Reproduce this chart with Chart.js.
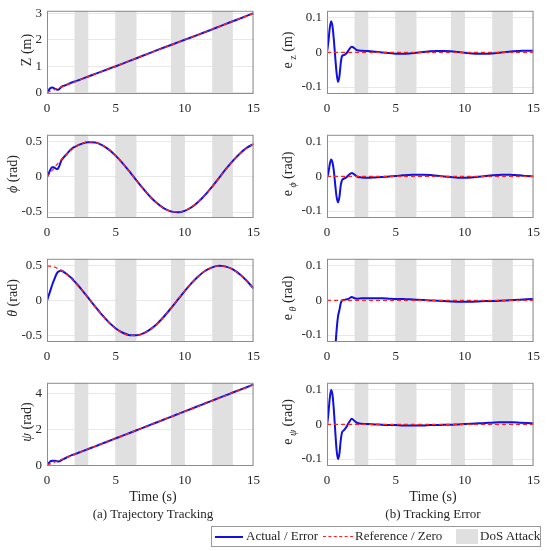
<!DOCTYPE html>
<html>
<head>
<meta charset="utf-8">
<script src="https://cdn.jsdelivr.net/npm/chart.js@4.4.0/dist/chart.umd.min.js"></script>
<style>
    body { margin: 0; background: #fff; font-family: "Liberation Serif", serif; color: #262626; }
    #page { position: relative; width: 550px; height: 551px; overflow: hidden; }
    canvas { position: absolute; }
    .ylab { position: absolute; transform: translate(-50%, -50%) rotate(-90deg); white-space: nowrap; font-size: 14px; }
    .ylab sub { font-size: 10px; }
    .xlab { position: absolute; transform: translateX(-50%); white-space: nowrap; font-size: 14px; }
    .sub { position: absolute; transform: translateX(-50%); white-space: nowrap; font-size: 13px; }
    #legend { position: absolute; left: 211px; top: 526px; width: 328px; height: 19px; border: 1px solid #9a9a9a; background: #fff; font-size: 13px; }
    #legend span { position: absolute; top: 1px; white-space: nowrap; }
    .swatch { position: absolute; }
</style>
</head>
<body>
<div id="page">
    <canvas id="c0" width="267" height="122"></canvas>
    <canvas id="c1" width="267" height="122"></canvas>
    <canvas id="c2" width="267" height="122"></canvas>
    <canvas id="c3" width="267" height="122"></canvas>
    <canvas id="c4" width="267" height="122"></canvas>
    <canvas id="c5" width="267" height="122"></canvas>
    <canvas id="c6" width="267" height="122"></canvas>
    <canvas id="c7" width="267" height="122"></canvas>

    <div class="ylab" style="left:27px; top:50px">Z (m)</div>
    <div class="ylab" style="left:13px; top:174px"><i>&#981;</i> (rad)</div>
    <div class="ylab" style="left:13px; top:298px"><i>&theta;</i> (rad)</div>
    <div class="ylab" style="left:27px; top:422px"><i>&psi;</i> (rad)</div>
    <div class="ylab" style="left:289px; top:50px">e<sub> z</sub> (m)</div>
    <div class="ylab" style="left:289px; top:174px">e<sub> <i>&#981;</i></sub> (rad)</div>
    <div class="ylab" style="left:289px; top:298px">e<sub> <i>&theta;</i></sub> (rad)</div>
    <div class="ylab" style="left:289px; top:422px">e<sub> <i>&psi;</i></sub> (rad)</div>

    <div class="xlab" style="left:153px; top:489px">Time (s)</div>
    <div class="xlab" style="left:433px; top:489px">Time (s)</div>
    <div class="sub" style="left:153px; top:506px">(a) Trajectory Tracking</div>
    <div class="sub" style="left:433px; top:506px">(b) Tracking Error</div>

    <div id="legend">
        <div class="swatch" style="left:3px; top:9px; width:28px; border-top:2px solid #1010e0"></div>
        <span style="left:34px">Actual / Error</span>
        <div class="swatch" style="left:111px; top:9px; width:30px; border-top:1.5px dashed #ff2020"></div>
        <span style="left:143px">Reference / Zero</span>
        <div class="swatch" style="left:244px; top:2px; width:22px; height:15px; background:#e0e0e0"></div>
        <span style="left:268px">DoS Attack</span>
    </div>
</div>

<script>
    // time samples (s)
    const timeFine = [0, 0.1, 0.2, 0.3, 0.4, 0.5, 0.6, 0.7, 0.8, 0.9, 1, 1.1, 1.2, 1.4, 1.6, 1.8, 2, 2.2, 2.5,
        3, 3.5, 4, 4.5, 5, 5.5, 6, 6.5, 7, 7.5, 8, 8.5, 9, 9.5, 10, 10.5, 11, 11.5, 12, 12.5, 13, 13.5, 14, 14.5, 15];
    const timeRef = [0, 0.5, 1, 1.5, 2, 2.5, 3, 3.5, 4, 4.5, 5, 5.5, 6, 6.5, 7, 7.5, 8, 8.5, 9, 9.5, 10,
        10.5, 11, 11.5, 12, 12.5, 13, 13.5, 14, 14.5, 15];
    const timeEnds = [0, 15];

    // DoS attack windows
    const dosStart = [2, 5, 9, 12];
    const dosEnd = [3, 6.5, 10, 13.5];

    // reference trajectories
    const zRef = [0, 0.1, 0.2, 0.3, 0.4, 0.5, 0.6, 0.7, 0.8, 0.9, 1.0, 1.1, 1.2, 1.3, 1.4, 1.5, 1.6, 1.7, 1.8, 1.9, 2.0,
        2.1, 2.2, 2.3, 2.4, 2.5, 2.6, 2.7, 2.8, 2.9, 3.0];
    const phiRef = [0, 0.124, 0.240, 0.341, 0.421, 0.474, 0.499, 0.492, 0.455, 0.389, 0.299, 0.191, 0.071, -0.054,
        -0.175, -0.286, -0.378, -0.448, -0.489, -0.500, -0.479, -0.429, -0.353, -0.255, -0.140, -0.017, 0.108,
        0.225, 0.328, 0.412, 0.469];
    const thetaRef = [0.5, 0.484, 0.439, 0.366, 0.270, 0.158, 0.035, -0.089, -0.208, -0.314, -0.401, -0.462, -0.495,
        -0.497, -0.468, -0.410, -0.327, -0.223, -0.105, 0.019, 0.142, 0.256, 0.354, 0.431, 0.480, 0.500, 0.488,
        0.447, 0.377, 0.284, 0.173];
    const psiRef = [0, 0.15, 0.3, 0.45, 0.6, 0.75, 0.9, 1.05, 1.2, 1.35, 1.5, 1.65, 1.8, 1.95, 2.1, 2.25, 2.4, 2.55,
        2.7, 2.85, 3.0, 3.15, 3.3, 3.45, 3.6, 3.75, 3.9, 4.05, 4.2, 4.35, 4.5];
    const zeroLine = [0, 0];

    // actual states
    const zAct = [0, 0.06, 0.14, 0.18, 0.185, 0.16, 0.13, 0.105, 0.1, 0.13, 0.19, 0.23, 0.25, 0.285, 0.33, 0.376,
        0.412, 0.446, 0.505, 0.604, 0.702, 0.8, 0.898, 0.996, 1.096, 1.197, 1.299, 1.401, 1.503, 1.604, 1.704,
        1.803, 1.901, 1.999, 2.097, 2.196, 2.296, 2.397, 2.499, 2.601, 2.703, 2.804, 2.905, 3.005];
    const phiAct = [-0.004, 0.035, 0.085, 0.124, 0.139, 0.139, 0.123, 0.112, 0.12, 0.158, 0.215, 0.251, 0.275, 0.319,
        0.364, 0.402, 0.426, 0.445, 0.471, 0.495, 0.489, 0.453, 0.389, 0.300, 0.194, 0.075, -0.049, -0.170,
        -0.282, -0.376, -0.448, -0.491, -0.504, -0.483, -0.432, -0.354, -0.254, -0.137, -0.013, 0.113, 0.229,
        0.331, 0.413, 0.469];
    const thetaAct = [0, 0.06, 0.12, 0.18, 0.24, 0.29, 0.34, 0.385, 0.415, 0.422, 0.431, 0.426, 0.414, 0.385, 0.353,
        0.321, 0.276, 0.232, 0.164, 0.041, -0.083, -0.202, -0.309, -0.397, -0.458, -0.492, -0.495, -0.467,
        -0.410, -0.328, -0.225, -0.108, 0.015, 0.138, 0.252, 0.351, 0.429, 0.478, 0.499, 0.488, 0.448, 0.379,
        0.287, 0.177];
    const psiAct = [0, 0.08, 0.18, 0.23, 0.245, 0.245, 0.235, 0.22, 0.205, 0.21, 0.25, 0.3, 0.34, 0.412, 0.486,
        0.556, 0.61, 0.664, 0.752, 0.901, 1.05, 1.199, 1.348, 1.498, 1.647, 1.797, 1.947, 2.097, 2.248, 2.398,
        2.549, 2.699, 2.85, 3.001, 3.152, 3.303, 3.454, 3.605, 3.756, 3.906, 4.056, 4.205, 4.354, 4.503];

    // tracking errors
    const zErr = [0, 0.03, 0.07, 0.09, 0.075, 0.035, -0.015, -0.06, -0.085, -0.07, -0.03, -0.01, -0.008, -0.003,
        0.008, 0.016, 0.012, 0.006, 0.005, 0.004, 0.002, 0, -0.002, -0.004, -0.004, -0.003, -0.001, 0.001, 0.003,
        0.004, 0.004, 0.003, 0.001, -0.001, -0.003, -0.004, -0.004, -0.003, -0.001, 0.001, 0.003, 0.004, 0.005, 0.005];
    const phiErr = [-0.004, 0.01, 0.035, 0.049, 0.04, 0.015, -0.025, -0.06, -0.075, -0.06, -0.025, -0.01, -0.007,
        -0.003, 0.005, 0.01, 0.005, -0.001, -0.003, -0.004, -0.003, -0.002, 0, 0.001, 0.003, 0.004, 0.005, 0.005,
        0.004, 0.002, 0, -0.002, -0.004, -0.004, -0.003, -0.001, 0.001, 0.003, 0.004, 0.005, 0.004, 0.003, 0.001, 0];
    const thetaErr = [-0.5, -0.439, -0.378, -0.314, -0.25, -0.194, -0.138, -0.085, -0.046, -0.028, -0.008, 0, 0.001,
        0.003, 0.005, 0.01, 0.006, 0.005, 0.006, 0.006, 0.006, 0.006, 0.005, 0.004, 0.004, 0.003, 0.002, 0.001, 0,
        -0.001, -0.002, -0.003, -0.004, -0.004, -0.004, -0.003, -0.002, -0.002, -0.001, 0, 0.001, 0.002, 0.003, 0.004];
    const psiErr = [-0.005, 0.03, 0.075, 0.099, 0.085, 0.04, -0.02, -0.075, -0.1, -0.085, -0.045, -0.022, -0.018,
        -0.008, 0.006, 0.016, 0.01, 0.004, 0.002, 0.001, 0, -0.001, -0.002, -0.002, -0.003, -0.003, -0.003, -0.003,
        -0.002, -0.002, -0.001, -0.001, 0, 0.001, 0.002, 0.003, 0.004, 0.005, 0.006, 0.006, 0.006, 0.005, 0.004, 0.003];

    // tick labels
    const timeTicks = [0, 5, 10, 15];
    const zTicks = [0, 1, 2, 3];
    const angleTicks = [-0.5, 0, 0.5];
    const psiTicks = [0, 2, 4];
    const errTicks = [-0.1, 0, 0.1];

    const BLUE = '#1010e0';
    const RED = '#ff2020';
    const FONT = { family: '"Liberation Serif", serif', size: 13 };

    // panel list: [actual, actualTime, ref, refTime, yMin, yMax, ticks]
    const panels = [
        [zAct, timeFine, zRef, timeRef, -0.06, 3.1, zTicks],
        [zErr, timeFine, zeroLine, timeEnds, -0.12, 0.12, errTicks],
        [phiAct, timeFine, phiRef, timeRef, -0.585, 0.6, angleTicks],
        [phiErr, timeFine, zeroLine, timeEnds, -0.12, 0.12, errTicks],
        [thetaAct, timeFine, thetaRef, timeRef, -0.59, 0.6, angleTicks],
        [thetaErr, timeFine, zeroLine, timeEnds, -0.12, 0.12, errTicks],
        [psiAct, timeFine, psiRef, timeRef, -0.05, 4.6, psiTicks],
        [psiErr, timeFine, zeroLine, timeEnds, -0.12, 0.12, errTicks]
    ];
    const rowTops = [6, 130, 254, 378];
    const colLefts = [0, 280];

    // grey DoS windows behind the curves
    const dosShade = {
        id: 'dosShade',
        beforeDatasetsDraw(chart) {
            const { ctx, chartArea, scales } = chart;
            ctx.save();
            ctx.fillStyle = '#e0e0e0';
            dosStart.forEach((s, i) => {
                const x1 = scales.x.getPixelForValue(s);
                const x2 = scales.x.getPixelForValue(dosEnd[i]);
                ctx.fillRect(x1, chartArea.top, x2 - x1, chartArea.bottom - chartArea.top);
            });
            ctx.restore();
        }
    };

    // box round the plot area
    const frame = {
        id: 'frame',
        afterDatasetsDraw(chart) {
            const { ctx, chartArea } = chart;
            ctx.save();
            ctx.strokeStyle = '#8c8c8c';
            ctx.lineWidth = 1;
            ctx.strokeRect(chartArea.left + 0.5, chartArea.top + 0.5,
                chartArea.right - chartArea.left - 1, chartArea.bottom - chartArea.top - 1);
            ctx.restore();
        }
    };

    function toPoints(xs, ys) {
        return xs.map((x, i) => ({ x: x, y: ys[i] }));
    }

    panels.forEach((p, idx) => {
        const canvas = document.getElementById('c' + idx);
        canvas.style.left = colLefts[idx % 2] + 'px';
        canvas.style.top = (rowTops[Math.floor(idx / 2)] - 8) + 'px';

        new Chart(canvas, {
            type: 'line',
            data: {
                datasets: [{
                    data: toPoints(p[3], p[2]),
                    borderColor: RED,
                    borderWidth: 1.3,
                    borderDash: [4, 3],
                    pointRadius: 0,
                    cubicInterpolationMode: 'monotone'
                }, {
                    data: toPoints(p[1], p[0]),
                    borderColor: BLUE,
                    borderWidth: 2,
                    pointRadius: 0,
                    cubicInterpolationMode: 'monotone'
                }]
            },
            options: {
                responsive: false,
                animation: false,
                layout: { padding: { top: 8, right: 8, left: 0, bottom: 0 } },
                plugins: { legend: { display: false }, tooltip: { enabled: false } },
                scales: {
                    x: {
                        type: 'linear',
                        min: 0,
                        max: 15,
                        afterBuildTicks: s => { s.ticks = timeTicks.map(v => ({ value: v })); },
                        afterFit: s => { s.height = 26; },
                        grid: { color: 'rgba(0,0,0,0.09)', drawTicks: false },
                        border: { display: false },
                        ticks: { font: FONT, color: '#262626', padding: 7, maxRotation: 0, callback: v => String(v) }
                    },
                    y: {
                        min: p[4],
                        max: p[5],
                        afterBuildTicks: s => { s.ticks = p[6].map(v => ({ value: v })); },
                        afterFit: s => { s.width = 47; },
                        grid: { color: 'rgba(0,0,0,0.09)', drawTicks: false },
                        border: { display: false },
                        ticks: { font: FONT, color: '#262626', padding: 5, callback: v => String(v) }
                    }
                }
            },
            plugins: [dosShade, frame]
        });
    });
</script>
</body>
</html>
